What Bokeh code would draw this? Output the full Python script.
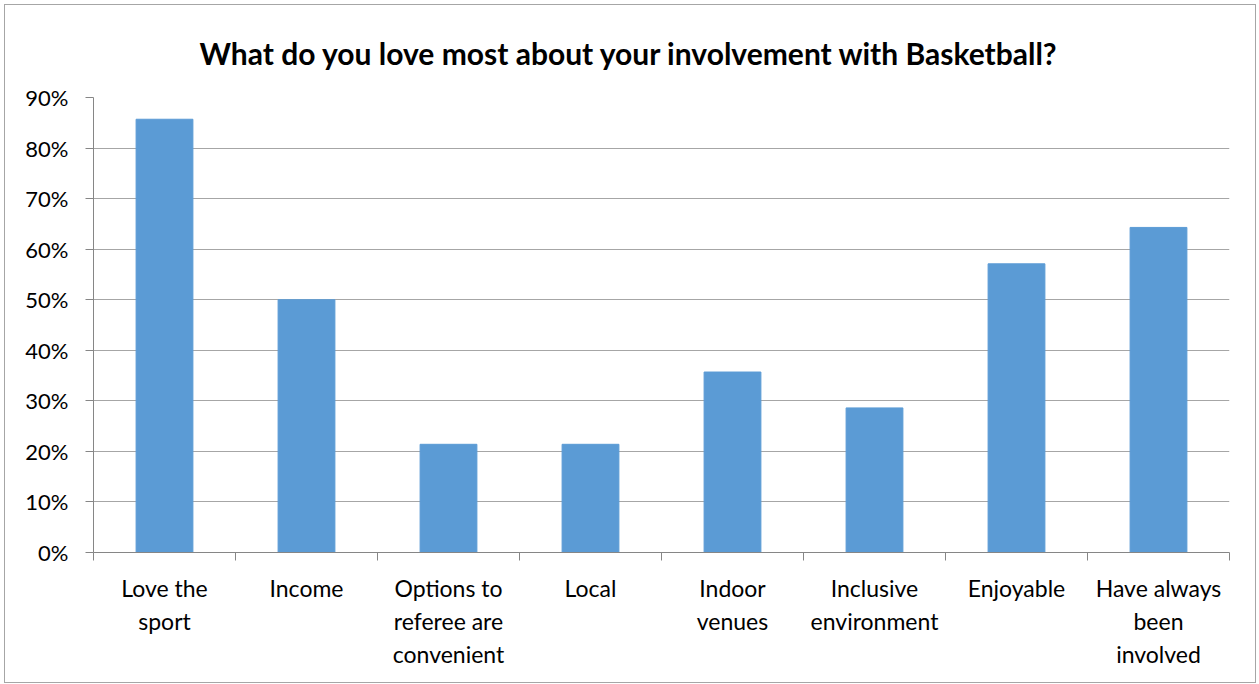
from bokeh.plotting import figure
from bokeh.models import FixedTicker, NumeralTickFormatter, Title, Range1d
from bokeh.embed import file_html
from bokeh.resources import INLINE

categories = ["Love the\nsport", "Income", "Options to\nreferee are\nconvenient", "Local",
              "Indoor\nvenues", "Inclusive\nenvironment", "Enjoyable", "Have always\nbeen\ninvolved"]
values = [0.857, 0.50, 0.214, 0.214, 0.357, 0.286, 0.571, 0.643]
y_ticks = [0.0, 0.1, 0.2, 0.3, 0.4, 0.5, 0.6, 0.7, 0.8, 0.9]
title_text = "What do you love most about your involvement with Basketball?"

FONT = "Lato"
n = len(categories)
centers = [i + 0.5 for i in range(n)]
bounds = [float(i) for i in range(n + 1)]

p = figure(width=1252, height=679, output_backend="svg", toolbar_location=None,
           x_range=Range1d(0, n), y_range=Range1d(0, 0.9),
           min_border_left=88, min_border_right=28, min_border_top=92, min_border_bottom=132)
p.styles = {"border": "1px solid #a6a6a6", "margin": "4px 0px 0px 4px"}
p.outline_line_color = None
p.background_fill_color = "white"
p.border_fill_color = "white"

p.vbar(x=centers, top=values, width=0.4, color="#5B9BD5")

t = Title(text=title_text, align="left", offset=106, text_font=FONT, text_font_size="30px",
          text_font_style="bold", text_color="#000000", standoff=54)
p.add_layout(t, "above")

# x axis
p.xaxis.ticker = FixedTicker(ticks=centers, minor_ticks=bounds)
p.xaxis.major_label_overrides = {c: lab for c, lab in zip(centers, categories)}
p.xaxis.major_tick_line_color = None
p.xaxis.minor_tick_line_color = "#868686"
p.xaxis.minor_tick_in = 0
p.xaxis.minor_tick_out = 8
p.xaxis.axis_line_color = "#868686"
p.xaxis.major_label_text_font = FONT
p.xaxis.major_label_text_font_size = "23px"
p.xaxis.major_label_text_color = "#000000"
p.xaxis.major_label_text_line_height = 1.18
p.xaxis.major_label_standoff = 13
p.xaxis.major_label_orientation = "horizontal"
p.xgrid.grid_line_color = None

# y axis
p.yaxis.ticker = FixedTicker(ticks=y_ticks, minor_ticks=[])
p.yaxis.formatter = NumeralTickFormatter(format="0%")
p.yaxis.axis_line_color = "#868686"
p.yaxis.major_tick_line_color = "#868686"
p.yaxis.major_tick_in = 0
p.yaxis.major_tick_out = 8
p.yaxis.minor_tick_line_color = None
p.yaxis.major_label_text_font = FONT
p.yaxis.major_label_text_font_size = "22px"
p.yaxis.major_label_text_color = "#000000"
p.yaxis.major_label_standoff = 17
p.ygrid.grid_line_color = "#a6a6a6"
p.ygrid.grid_line_width = 1

open("out.html", "w").write(file_html(p, INLINE))
